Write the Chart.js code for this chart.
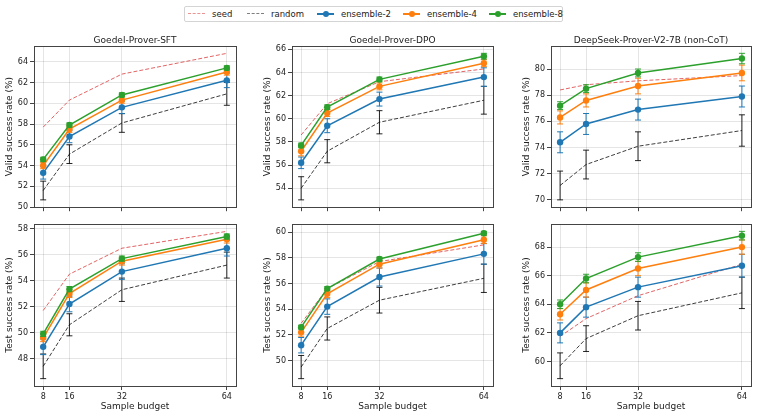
<!DOCTYPE html>
<html>
<head>
<meta charset="utf-8">
<script src="https://cdn.jsdelivr.net/npm/chart.js@4.4.1/dist/chart.umd.min.js"></script>
<style>
  body { margin: 0; width: 759px; height: 418px; background: #fff; position: relative; overflow: hidden;
         font-family: "DejaVu Sans", sans-serif; color: #222; }
  .panel { position: absolute; }
  #legend { position: absolute; left: 184px; top: 6px; width: 377px; height: 14px;
            border: 1px solid #d4d4d4; border-radius: 2px; font-size: 8.5px; }
  .item { position: absolute; top: 0; height: 14px; display: flex; align-items: center; white-space: nowrap; }
  .swatch { position: relative; width: 17px; height: 8px; margin-right: 7px; }
  .swatch .ln { position: absolute; left: 0; right: 0; top: 3px; }
  .swatch .dot { position: absolute; left: 6px; top: 1px; width: 6px; height: 6px; border-radius: 50%; }
</style>
</head>
<body>
<div id="legend"></div>

<script>
const budgets = [8, 16, 32, 64];
const seriesNames = ["seed", "random", "ensemble-2", "ensemble-4", "ensemble-8"];
const modelNames = ["Goedel-Prover-SFT", "Goedel-Prover-DPO", "DeepSeek-Prover-V2-7B (non-CoT)"];

// rows: seed, random, ensemble-2, ensemble-4, ensemble-8
const sftValid = [
  [57.7, 60.3, 62.8, 64.8],
  [51.6, 55.1, 58.1, 60.9],
  [53.3, 56.8, 59.6, 62.2],
  [54.0, 57.5, 60.3, 63.0],
  [54.6, 57.9, 60.8, 63.4]
];
const sftValidErr = [null, [0.9, 0.9, 0.9, 1.1], [0.6, 0.6, 0.6, 0.7], [0.3, 0.3, 0.3, 0.3], [0.2, 0.2, 0.2, 0.2]];

const dpoValid = [
  [58.6, 61.3, 63.2, 64.3],
  [54.0, 57.2, 59.7, 61.6],
  [56.2, 59.4, 61.7, 63.6],
  [57.2, 60.5, 62.8, 64.8],
  [57.7, 61.0, 63.4, 65.4]
];
const dpoValidErr = [null, [1.0, 1.0, 1.0, 1.2], [0.5, 0.6, 0.6, 0.8], [0.4, 0.3, 0.3, 0.3], [0.2, 0.2, 0.2, 0.25]];

const dsValid = [
  [78.4, 78.8, 79.1, 79.5],
  [71.1, 72.7, 74.1, 75.3],
  [74.4, 75.8, 76.9, 77.9],
  [76.3, 77.6, 78.7, 79.7],
  [77.2, 78.5, 79.7, 80.8]
];
const dsValidErr = [null, [1.1, 1.1, 1.1, 1.2], [0.8, 0.8, 0.8, 0.8], [0.5, 0.5, 0.6, 0.6], [0.3, 0.3, 0.3, 0.4]];

const sftTest = [
  [51.7, 54.5, 56.5, 57.8],
  [47.4, 50.6, 53.3, 55.2],
  [48.9, 52.2, 54.7, 56.5],
  [49.6, 53.0, 55.5, 57.2],
  [49.9, 53.35, 55.7, 57.4]
];
const sftTestErr = [null, [0.95, 0.85, 0.9, 1.0], [0.6, 0.6, 0.6, 0.6], [0.3, 0.3, 0.3, 0.3], [0.2, 0.2, 0.2, 0.2]];

const dpoTest = [
  [52.9, 55.6, 57.7, 59.0],
  [49.5, 52.5, 54.7, 56.4],
  [51.2, 54.2, 56.5, 58.3],
  [52.2, 55.2, 57.5, 59.4],
  [52.6, 55.6, 57.9, 59.9]
];
const dpoTestErr = [null, [0.9, 0.9, 1.0, 1.1], [0.6, 0.6, 0.7, 0.8], [0.3, 0.3, 0.3, 0.3], [0.15, 0.15, 0.15, 0.15]];

const dsTest = [
  [61.75, 63.0, 64.6, 66.8],
  [59.7, 61.6, 63.2, 64.8],
  [62.0, 63.8, 65.2, 66.7],
  [63.3, 65.0, 66.5, 68.0],
  [64.0, 65.8, 67.3, 68.8]
];
const dsTestErr = [null, [0.9, 0.9, 1.0, 1.1], [0.7, 0.7, 0.7, 0.8], [0.4, 0.5, 0.5, 0.5], [0.3, 0.3, 0.3, 0.3]];

const validTicks = [
  [50, 52, 54, 56, 58, 60, 62, 64],
  [54, 56, 58, 60, 62, 64, 66],
  [70, 72, 74, 76, 78, 80]
];
const testTicks = [
  [48, 50, 52, 54, 56, 58],
  [50, 52, 54, 56, 58, 60],
  [60, 62, 64, 66, 68]
];

const styles = [
  { color: "rgba(214,39,40,0.8)", dash: [4, 2], width: 0.9, radius: 0 },
  { color: "rgba(0,0,0,0.85)", dash: [4, 2], width: 0.9, radius: 0, err: "rgba(0,0,0,0.85)" },
  { color: "#1f77b4", dash: [], width: 1.5, radius: 3.2 },
  { color: "#ff7f0e", dash: [], width: 1.5, radius: 3.2 },
  { color: "#2ca02c", dash: [], width: 1.5, radius: 3.2 }
];

// legend
const legendLeft = [3, 62, 132, 218, 304];
const legend = document.getElementById("legend");
seriesNames.forEach((name, i) => {
  const st = styles[i];
  const item = document.createElement("div");
  item.className = "item";
  item.style.left = legendLeft[i] + "px";
  const sw = document.createElement("span");
  sw.className = "swatch";
  const ln = document.createElement("span");
  ln.className = "ln";
  if (st.dash.length) {
    ln.style.borderTop = "1px dashed " + (i === 0 ? "rgba(214,39,40,0.5)" : "rgba(0,0,0,0.5)");
  } else {
    ln.style.borderTop = "2px solid " + st.color;
    ln.style.top = "3px";
  }
  sw.appendChild(ln);
  if (!st.dash.length) {
    const dot = document.createElement("span");
    dot.className = "dot";
    dot.style.background = st.color;
    sw.appendChild(dot);
  }
  item.appendChild(sw);
  item.appendChild(document.createTextNode(name));
  legend.appendChild(item);
});

const errorBars = {
  id: "errorBars",
  beforeDatasetDraw(chart, args) {
    const ds = chart.data.datasets[args.index];
    if (!ds.err) return;
    const ctx = chart.ctx;
    const y = chart.scales.y;
    ctx.save();
    ctx.strokeStyle = ds.errColor;
    ctx.lineWidth = 1;
    args.meta.data.forEach((pt, j) => {
      const v = ds.data[j].y, e = ds.err[j];
      const y1 = y.getPixelForValue(v + e), y2 = y.getPixelForValue(v - e);
      ctx.beginPath();
      ctx.moveTo(pt.x, y1); ctx.lineTo(pt.x, y2);
      ctx.moveTo(pt.x - 3, y1); ctx.lineTo(pt.x + 3, y1);
      ctx.moveTo(pt.x - 3, y2); ctx.lineTo(pt.x + 3, y2);
      ctx.stroke();
    });
    ctx.restore();
  }
};

const frame = {
  id: "frame",
  afterDraw(chart) {
    const a = chart.chartArea, ctx = chart.ctx;
    ctx.save();
    ctx.strokeStyle = "#444";
    ctx.lineWidth = 1;
    ctx.strokeRect(Math.round(a.left) + 0.5, Math.round(a.top) + 0.5,
                   Math.round(a.right - a.left), Math.round(a.bottom - a.top));
    const t = chart.options.plugins.frame.title;
    if (t) {
      ctx.fillStyle = "#222";
      ctx.font = '9px "DejaVu Sans"';
      ctx.textAlign = "center";
      ctx.textBaseline = "middle";
      ctx.fillText(t, (a.left + a.right) / 2, a.top - 5);
    }
    ctx.restore();
  }
};

function makePanel(col, row, means, errs, yTicks) {
  const plotLeft = [34, 292, 551][col];
  const plotRight = [236, 493, 751][col];
  const top = row === 0 ? 30 : 214;
  const padTop = row === 0 ? 16 : 10;
  const plotBottom = row === 0 ? 210 : 386;
  const axisH = row === 0 ? 4 : 32;
  const left = plotLeft - 34;
  const width = plotRight + 4 - left;
  const height = plotBottom + axisH - top;

  const div = document.createElement("div");
  div.className = "panel";
  div.style.left = left + "px";
  div.style.top = top + "px";
  div.style.width = width + "px";
  div.style.height = height + "px";
  const canvas = document.createElement("canvas");
  div.appendChild(canvas);
  document.body.appendChild(div);

  let lo = Infinity, hi = -Infinity;
  means.forEach((m, i) => m.forEach((v, j) => {
    const e = errs[i] ? errs[i][j] : 0;
    lo = Math.min(lo, v - e);
    hi = Math.max(hi, v + e);
  }));
  const pad = (hi - lo) * 0.05;

  const datasets = means.map((m, i) => ({
    label: seriesNames[i],
    data: m.map((v, j) => ({ x: budgets[j], y: v })),
    err: errs[i],
    errColor: styles[i].err || styles[i].color,
    borderColor: styles[i].color,
    backgroundColor: styles[i].color,
    borderWidth: styles[i].width,
    borderDash: styles[i].dash,
    pointRadius: styles[i].radius,
    pointBorderWidth: 0,
    tension: 0,
    order: seriesNames.length - i
  }));

  const tickFont = { family: "DejaVu Sans", size: 8 };
  const labelFont = { family: "DejaVu Sans", size: 9 };

  new Chart(canvas, {
    type: "line",
    data: { datasets },
    options: {
      responsive: true,
      maintainAspectRatio: false,
      animation: false,
      layout: { padding: { top: padTop, right: 4, left: 0, bottom: 0 } },
      plugins: {
        legend: { display: false },
        tooltip: { enabled: false },
        frame: { title: row === 0 ? modelNames[col] : "" }
      },
      scales: {
        x: {
          type: "linear",
          min: 8 - 56 * 0.05,
          max: 64 + 56 * 0.05,
          afterBuildTicks: s => { s.ticks = budgets.map(v => ({ value: v })); },
          afterFit: s => { s.height = axisH; },
          ticks: { display: row === 1, color: "#222", font: tickFont, padding: 2, maxRotation: 0 },
          grid: { color: "rgba(0,0,0,0.1)", borderDash: [3, 2], tickColor: "#444", tickLength: 4, tickBorderDash: [] },
          border: { display: false },
          title: { display: row === 1, text: "Sample budget", color: "#222", font: labelFont, padding: { top: 0, bottom: 6 } }
        },
        y: {
          min: lo - pad,
          max: hi + pad,
          afterBuildTicks: s => { s.ticks = yTicks.map(v => ({ value: v })); },
          afterFit: s => { s.width = 34; },
          ticks: { color: "#222", font: tickFont, padding: 2 },
          grid: { color: "rgba(0,0,0,0.1)", borderDash: [3, 2], tickColor: "#444", tickLength: 4, tickBorderDash: [] },
          border: { display: false },
          title: { display: true, text: row === 0 ? "Valid success rate (%)" : "Test success rate (%)",
                   color: "#222", font: labelFont, padding: { top: 4.5, bottom: 0 } }
        }
      }
    },
    plugins: [errorBars, frame]
  });
}

makePanel(0, 0, sftValid, sftValidErr, validTicks[0]);
makePanel(1, 0, dpoValid, dpoValidErr, validTicks[1]);
makePanel(2, 0, dsValid, dsValidErr, validTicks[2]);
makePanel(0, 1, sftTest, sftTestErr, testTicks[0]);
makePanel(1, 1, dpoTest, dpoTestErr, testTicks[1]);
makePanel(2, 1, dsTest, dsTestErr, testTicks[2]);
</script>
</body>
</html>
